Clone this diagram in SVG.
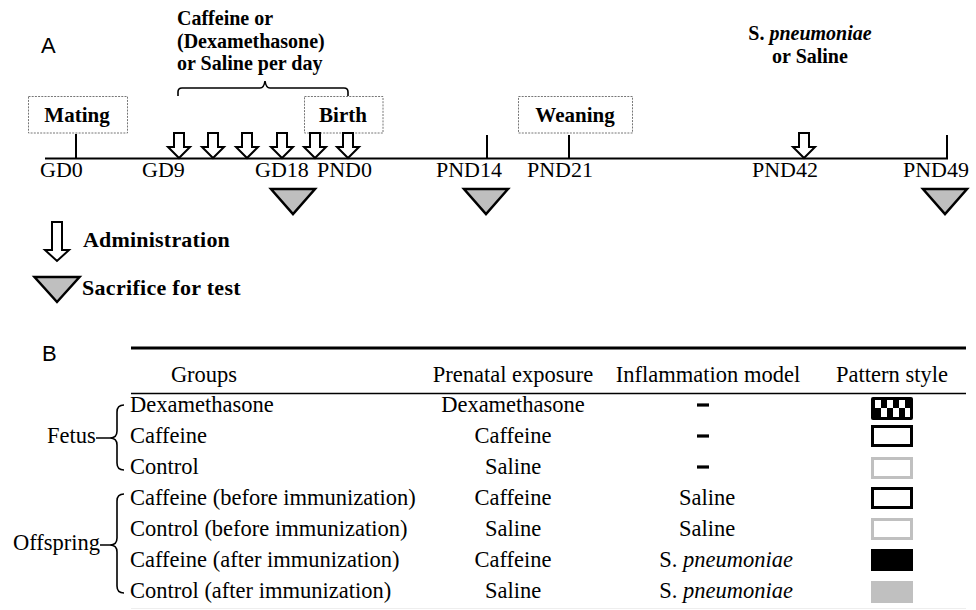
<svg xmlns="http://www.w3.org/2000/svg" width="976" height="610" viewBox="0 0 976 610">
<style>
  .serif { font-family: "Liberation Serif", "Times New Roman", serif; fill: #000; }
  .lbl { font-size: 22px; }
  .bold { font-weight: bold; }
  .tbl { font-size: 22.5px; }
  .sans { font-family: "Liberation Sans", Arial, sans-serif; font-size: 22px; fill: #000; }
  .box { fill: #fff; stroke: #777; stroke-width: 1; stroke-dasharray: 2 1.2; }
  .tick { stroke: #000; stroke-width: 2; fill: none; }
  .arrow { fill: #fff; stroke: #000; stroke-width: 2; stroke-linejoin: miter; }
  .tri { fill: #bfbfbf; stroke: #000; stroke-width: 2.5; stroke-linejoin: miter; }
  .brace { fill: none; stroke: #000; stroke-width: 1.6; }
  .dash { stroke: #000; stroke-width: 3.2; }
</style>
<defs>
  <path id="arr" class="arrow" d="M-5,0 L5,0 L5,14 L11,14 L0,25 L-11,14 L-5,14 Z"/>
  <path id="tri" class="tri" d="M-22,0 L22,0 L0,25 Z"/>
</defs>

<rect width="976" height="610" fill="#fff"/>

<!-- Panel A -->
<text class="sans" x="41" y="53">A</text>

<g id="connectors">
  <line class="tick" x1="45" y1="158.5" x2="948" y2="158.5"/>
  <line class="tick" x1="76" y1="134" x2="76" y2="158.5"/>
  <line class="tick" x1="487" y1="135" x2="487" y2="158.5"/>
  <line class="tick" x1="569" y1="135" x2="569" y2="158.5"/>
  <line class="tick" x1="947" y1="135" x2="947" y2="158.5"/>
  <path class="brace" d="M178,96 L178,92 Q178,88 182,88 L260,88 Q264,88 265,81 Q266,88 270,88 L344,88 Q348,88 348,92 L348,96" stroke-width="2"/>
</g>

<g id="mating">
  <rect class="box" x="28.5" y="96.5" width="99" height="36.5"/>
  <text class="serif bold" x="77" y="122" font-size="21" text-anchor="middle">Mating</text>
</g>
<g id="birth">
  <rect class="box" x="304.5" y="96.5" width="78.5" height="36.5"/>
  <text class="serif bold" x="343" y="122" font-size="21" text-anchor="middle">Birth</text>
</g>
<g id="weaning">
  <rect class="box" x="518.5" y="96.5" width="114" height="36.5"/>
  <text class="serif bold" x="575" y="122" font-size="21" text-anchor="middle">Weaning</text>
</g>

<g id="admin-label">
  <text class="serif bold" font-size="20" x="177" y="25">Caffeine or</text>
  <text class="serif bold" font-size="20" x="177" y="48">(Dexamethasone)</text>
  <text class="serif bold" font-size="20" x="177" y="70">or Saline per day</text>
</g>
<g id="pneumo-label">
  <text class="serif bold" font-size="20" x="810" y="40" text-anchor="middle">S. <tspan font-style="italic">pneumoniae</tspan></text>
  <text class="serif bold" font-size="20" x="810" y="63" text-anchor="middle">or Saline</text>
</g>

<g id="arrows">
  <use href="#arr" x="179" y="133"/>
  <use href="#arr" x="213" y="133"/>
  <use href="#arr" x="247" y="133"/>
  <use href="#arr" x="282" y="133"/>
  <use href="#arr" x="315" y="133"/>
  <use href="#arr" x="348" y="133"/>
  <use href="#arr" x="804" y="133"/>
</g>

<g id="timeline-labels">
  <text class="serif lbl" x="40" y="177">GD0</text>
  <text class="serif lbl" x="142" y="177">GD9</text>
  <text class="serif lbl" x="255" y="177">GD18</text>
  <text class="serif lbl" x="317" y="177">PND0</text>
  <text class="serif lbl" x="436" y="177">PND14</text>
  <text class="serif lbl" x="527" y="177">PND21</text>
  <text class="serif lbl" x="752" y="177">PND42</text>
  <text class="serif lbl" x="903" y="177">PND49</text>
</g>

<g id="sacrifices">
  <use href="#tri" x="293" y="189"/>
  <use href="#tri" x="486" y="189"/>
  <use href="#tri" x="945" y="189"/>
</g>

<g id="legend">
  <path class="arrow" d="M52,222 L62,222 L62,250 L69,250 L57,261 L45,250 L52,250 Z"/>
  <text class="serif bold" font-size="22" letter-spacing="0.2" x="83" y="247">Administration</text>
  <path class="tri" d="M34.5,277 L79.5,277 L57,302 Z"/>
  <text class="serif bold" font-size="22" letter-spacing="0.3" x="82" y="295">Sacrifice for test</text>
</g>

<!-- Panel B -->
<text class="sans" x="42" y="361">B</text>

<g id="table-rules">
  <line x1="131" y1="348" x2="966" y2="348" stroke="#000" stroke-width="3"/>
  <line x1="131" y1="393.5" x2="966" y2="393.5" stroke="#000" stroke-width="1.5"/>
  <line x1="131" y1="608.5" x2="966" y2="608.5" stroke="#eeeeee" stroke-width="1"/>
</g>

<g id="table-header" class="serif tbl">
  <text x="204" y="382" text-anchor="middle">Groups</text>
  <text x="513" y="382" text-anchor="middle">Prenatal exposure</text>
  <text x="708" y="382" text-anchor="middle">Inflammation model</text>
  <text x="892" y="382" text-anchor="middle">Pattern style</text>
</g>

<g id="fetus">
  <text class="serif tbl" x="47" y="443">Fetus</text>
  <path class="brace" d="M124,405 Q117,405 117,412 L117,431 Q117,438 110,438 L96,438 M110,438 Q117,438 117,445 L117,463 Q117,470 124,470"/>
</g>
<g id="offspring">
  <text class="serif tbl" x="13" y="550">Offspring</text>
  <path class="brace" d="M124,494 Q117,494 117,501 L117,538 Q117,545 110,545 L100,545 M110,545 Q117,545 117,552 L117,586 Q117,593 124,593"/>
</g>

<g id="groups" class="serif tbl">
  <text x="130" y="412">Dexamethasone</text>
  <text x="130" y="443">Caffeine</text>
  <text x="130" y="474">Control</text>
  <text x="130" y="505">Caffeine (before immunization)</text>
  <text x="130" y="536">Control (before immunization)</text>
  <text x="130" y="567">Caffeine (after immunization)</text>
  <text x="130" y="598">Control (after immunization)</text>
</g>

<g id="prenatal" class="serif tbl" text-anchor="middle">
  <text x="513" y="412">Dexamethasone</text>
  <text x="513" y="443">Caffeine</text>
  <text x="513" y="474">Saline</text>
  <text x="513" y="505">Caffeine</text>
  <text x="513" y="536">Saline</text>
  <text x="513" y="567">Caffeine</text>
  <text x="513" y="598">Saline</text>
</g>

<g id="inflammation">
  <line class="dash" x1="697" y1="405" x2="709" y2="405"/>
  <line class="dash" x1="697" y1="436" x2="709" y2="436"/>
  <line class="dash" x1="697" y1="467" x2="709" y2="467"/>
  <g class="serif tbl" text-anchor="middle">
    <text x="707" y="505">Saline</text>
    <text x="707" y="536">Saline</text>
    <text x="726" y="567">S. <tspan font-style="italic">pneumoniae</tspan></text>
    <text x="726" y="598">S. <tspan font-style="italic">pneumoniae</tspan></text>
  </g>
</g>

<g id="patterns">
  <g id="pat-dex">
    <rect x="871" y="397" width="42" height="23" rx="2" fill="#000"/>
    <g fill="#fff">
      <rect x="875" y="400" width="6" height="8"/>
      <rect x="887" y="400" width="6" height="8"/>
      <rect x="899" y="400" width="6" height="8"/>
      <rect x="881" y="408" width="6" height="9"/>
      <rect x="893" y="408" width="6" height="9"/>
      <rect x="905" y="408" width="5" height="9"/>
    </g>
  </g>
  <rect x="872.5" y="426.5" width="39" height="19" fill="#fff" stroke="#000" stroke-width="3"/>
  <rect x="872.5" y="458.5" width="39" height="19" fill="#fff" stroke="#c0c0c0" stroke-width="3"/>
  <rect x="872.5" y="488.5" width="39" height="19" fill="#fff" stroke="#000" stroke-width="3"/>
  <rect x="872.5" y="519.5" width="39" height="19" fill="#fff" stroke="#c0c0c0" stroke-width="3"/>
  <rect x="871" y="549" width="42" height="22" fill="#000"/>
  <rect x="871" y="581" width="42" height="22" fill="#c0c0c0"/>
</g>
</svg>
